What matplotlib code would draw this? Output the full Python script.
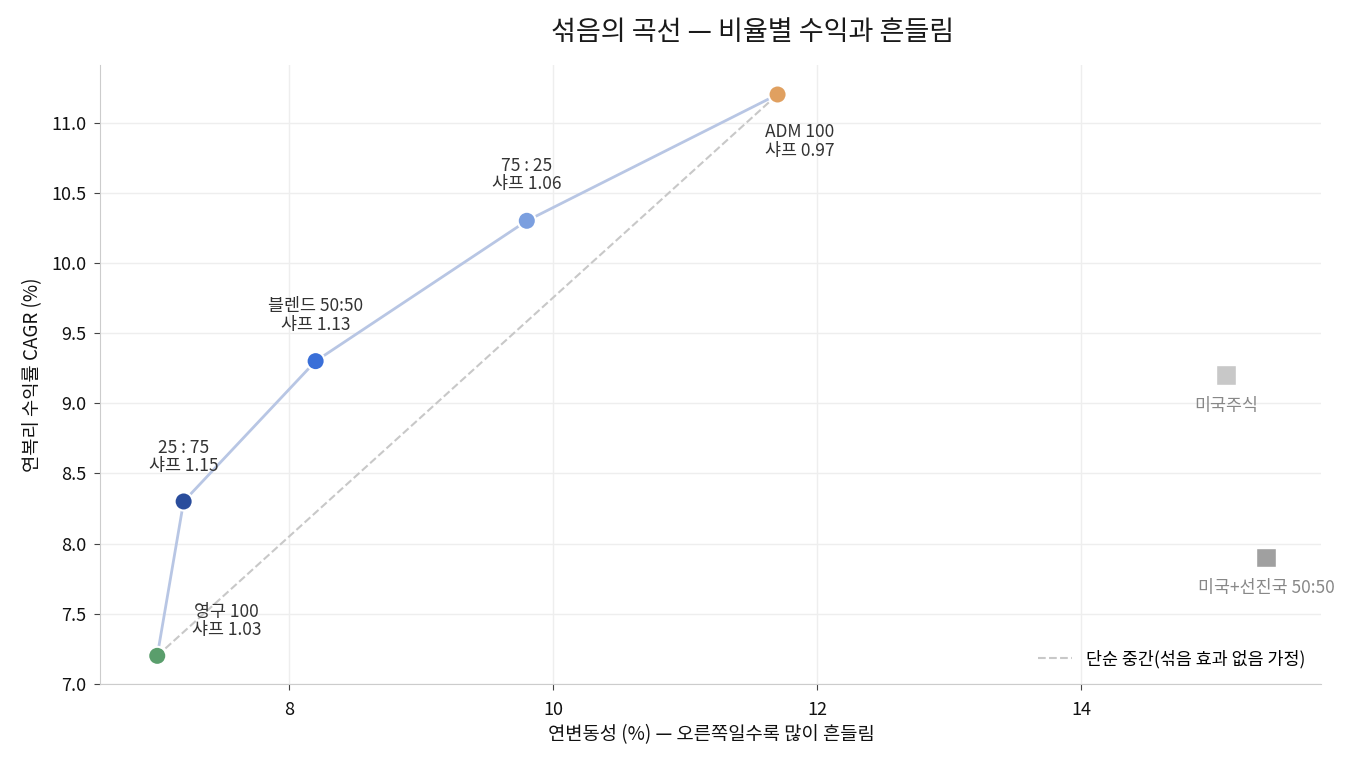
import matplotlib.pyplot as plt
import numpy as np

plt.rcParams['font.family'] = ['Noto Sans CJK KR', 'DejaVu Sans']

names = ['영구 100', '25 : 75', '블렌드 50:50', '75 : 25', 'ADM 100']
vol = [7.0, 7.2, 8.2, 9.8, 11.7]
cagr = [7.2, 8.3, 9.3, 10.3, 11.2]
sharpe = [1.03, 1.15, 1.13, 1.06, 0.97]
colors = ['#5a9e6c', '#2a4d9c', '#3a6fd8', '#7b9fdf', '#e0a060']

ref_names = ['미국주식', '미국+선진국 50:50']
ref_vol = [15.1, 15.4]
ref_cagr = [9.2, 7.9]
ref_colors = ['#c8c8c8', '#a0a0a0']

fig = plt.figure(figsize=(13.58, 7.65), dpi=100)
ax = fig.add_axes([0.074, 0.106, 0.899, 0.809])

ax.plot(vol, cagr, color='#b8c6e4', lw=2, zorder=2)
ax.plot([vol[0], vol[-1]], [cagr[0], cagr[-1]], ls='--', color='#c8c8c8', lw=1.5,
        zorder=1, label='단순 중간(섞음 효과 없음 가정)')
ax.scatter(vol, cagr, s=170, c=colors, edgecolors='white', linewidths=1.5, zorder=3)
ax.scatter(ref_vol, ref_cagr, s=200, marker='s', c=ref_colors, edgecolors='white',
           linewidths=1, zorder=3)

# 라벨 위치 (points)
offsets = [(50, 25), (0, 32), (0, 33), (0, 33), (16, -34)]
for n, x, y, s, (dx, dy) in zip(names, vol, cagr, sharpe, offsets):
    ax.annotate(f'{n}\n샤프 {s:.2f}', (x, y), xytext=(dx, dy), textcoords='offset points',
                ha='center', va='center', fontsize=12.5, color='#333333', linespacing=1.05)
for n, x, y in zip(ref_names, ref_vol, ref_cagr):
    ax.annotate(n, (x, y), xytext=(0, -22), textcoords='offset points',
                ha='center', va='center', fontsize=12.5, color='#888888')

ax.set_xlim(6.57, 15.82)
ax.set_ylim(7.0, 11.41)
ax.set_xticks([8, 10, 12, 14])
ax.set_yticks(np.arange(7.0, 11.01, 0.5))
ax.yaxis.set_major_formatter(plt.FormatStrFormatter('%.1f'))
ax.grid(color='#eeeeee', lw=1)
ax.set_axisbelow(True)
for side in ['top', 'right']:
    ax.spines[side].set_visible(False)
for side in ['left', 'bottom']:
    ax.spines[side].set_color('#cccccc')
ax.tick_params(colors='#111111', labelsize=13, length=4)
ax.tick_params(axis='both', color='#444444')
ax.tick_params(axis='x', pad=8)
ax.tick_params(axis='y', pad=6)

ax.set_xlabel('연변동성 (%) — 오른쪽일수록 많이 흔들림', fontsize=13.5, color='#111111', labelpad=4)
ax.set_ylabel('연복리 수익률 CAGR (%)', fontsize=13.5, color='#111111', labelpad=6)
ax.set_title('섞음의 곡선 — 비율별 수익과 흔들림', fontsize=19.5, pad=18, x=0.534,
             color='#1a1a1a')
ax.legend(loc='lower right', frameon=False, fontsize=12.5)

plt.savefig('out.png', dpi=100, facecolor='w')
